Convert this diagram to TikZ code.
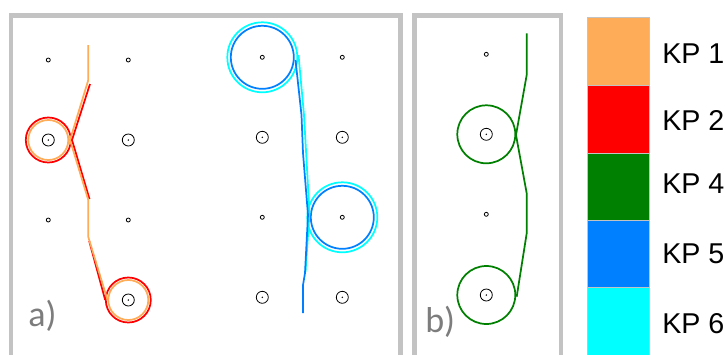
\documentclass[tikz,border=0pt]{standalone}
\usepackage{fontspec}
\setmainfont{Liberation Sans}
\newfontfamily\panelfont{Carlito}
\definecolor{kpone}{RGB}{255,172,89}
\definecolor{kptwo}{RGB}{255,0,0}
\definecolor{kpfour}{RGB}{0,128,0}
\definecolor{kpfive}{RGB}{0,128,255}
\definecolor{kpsix}{RGB}{0,255,255}
\definecolor{frame}{RGB}{195,195,195}
\definecolor{paneltext}{RGB}{125,125,125}
\begin{document}
\begin{tikzpicture}[x=0.75pt,y=-0.75pt,
  hole/.style={line width=0.6pt},
  pin/.style={line width=0.6pt},
  strand/.style={line width=1.3pt,line join=round},
  panel/.style={draw=frame,line width=3.4pt},
  swatch/.style={draw=frame,line width=0.75pt},
  kplabel/.style={anchor=base west,inner sep=0pt,font=\fontsize{21.5pt}{21.5pt}\selectfont},
  panellabel/.style={anchor=base west,inner sep=0pt,text=paneltext,font=\panelfont\fontsize{27pt}{27pt}\selectfont}]
\useasboundingbox (0,0) rectangle (725,354);
\fill[white] (0,0) rectangle (725,354);

% panels
\draw[panel] (11,356) -- (11,15.5) -- (400.5,15.5) -- (400.5,356);
\draw[panel] (414.5,356) -- (414.5,15.5) -- (561,15.5) -- (561,356);

% holes, panel a
\foreach \col/\x in {1/48.3,2/128.3}
  \foreach \row/\y in {1/60,2/140,3/220,4/300}
    \coordinate (al\col\row) at (\x,\y);
\foreach \col/\x in {1/262.3,2/342.3}
  \foreach \row/\y in {1/57.3,2/137.3,3/217.3,4/297.3}
    \coordinate (ar\col\row) at (\x,\y);
% holes, panel b
\foreach \row/\y in {1/54.3,2/134.3,3/214.3,4/295}
  \coordinate (b\row) at (486.3,\y);

\foreach \p in {al11,al21,al13,al23,ar11,ar21,ar13,ar23,b1,b3}
  \draw[hole] (\p) circle[radius=2];
\foreach \p in {al12,al22,al24,ar12,ar22,ar14,ar24,b2,b4}{
  \draw[pin] (\p) circle[radius=6];
  \fill (\p) circle[radius=0.8];
}

% KP 1 and KP 2
\draw[strand,kptwo] (al12) circle[radius=22.5];
\draw[strand,kptwo] (al24) circle[radius=22.5];
\draw[strand,kpone] (al12) circle[radius=20];
\draw[strand,kpone] (al24) circle[radius=20];
\draw[strand,kptwo] (90,84) -- (72,140) -- (89.5,199);
\draw[strand,kptwo] (89.2,241) -- (105.2,300);
\draw[strand,kpone] (88.3,45) -- (88.3,80) -- (70,140) -- (88.3,200)
  -- (88.3,237) -- (107.5,300);

% KP 5 and KP 6
\draw[strand,kpsix] (ar11) circle[radius=35];
\draw[strand,kpsix] (ar23) circle[radius=35];
\draw[strand,kpfive] (ar11) circle[radius=31.5];
\draw[strand,kpfive] (ar23) circle[radius=31.5];
\draw[strand,kpsix] (298.5,55) -- (304,115) -- (309.5,213) -- (305.5,272);
\draw[strand,kpfive] (295.5,60) -- (301.5,115) -- (303,153) -- (308,215)
  -- (305,273) -- (303,285) -- (303,313);

% KP 4
\draw[strand,kpfour] (b2) circle[radius=29];
\draw[strand,kpfour] (b4) circle[radius=29];
\draw[strand,kpfour] (526.7,33.3) -- (526.7,75) -- (516,135) -- (526.7,193.3)
  -- (526.7,233.3) -- (516.7,296.7);

\node[panellabel] (la) at (28,326) {a)};
\node[panellabel] (lb) at (425,332) {b)};

% legend
\foreach \c/\t/\b/\name/\yb in {kpone/17/85/1/63,kptwo/85/153/2/130,
    kpfour/153/220/4/193,kpfive/220/287/5/263,kpsix/287/356/6/333}{
  \filldraw[swatch,fill=\c] (587,\t) rectangle (649,\b);
  \node[kplabel] (kp\name) at (662,\yb) {KP \name};
}
\end{tikzpicture}
\end{document}
